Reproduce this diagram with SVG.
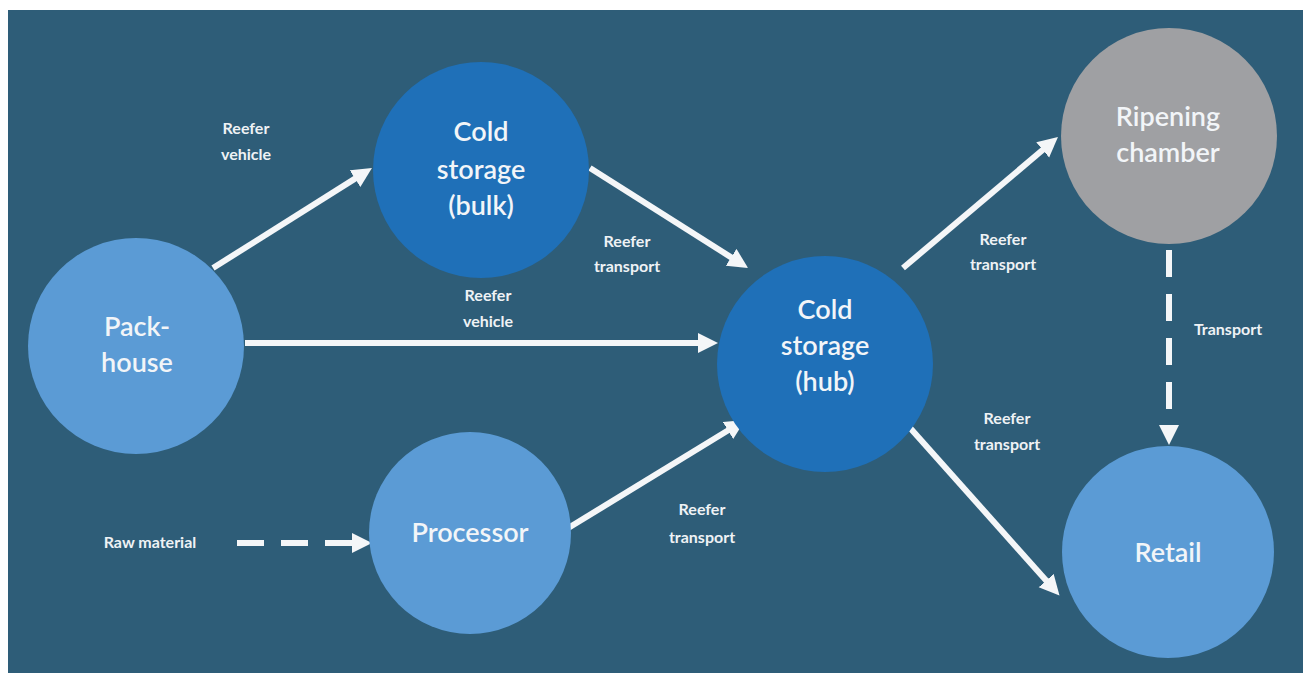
<svg xmlns="http://www.w3.org/2000/svg" width="1303" height="673" viewBox="0 0 1303 673">
<style>
.bg{fill:#2E5D78}
.light{fill:#5B9BD5}
.dark{fill:#1F70B8}
.gray{fill:#9FA0A3}
.nt{font-family:Lato,"Open Sans","Liberation Sans",sans-serif;font-size:27px;font-weight:600;fill:#F2F5F8;text-anchor:middle}
.et{font-family:Lato,"Open Sans","Liberation Sans",sans-serif;font-size:16px;font-weight:bold;fill:#EEF2F5;text-anchor:middle}
.conn{stroke:#F4F6F8;stroke-width:6;fill:none;marker-end:url(#ah)}
.dash{stroke-dasharray:27 17}
</style>
<defs>
<marker id="ah" markerUnits="userSpaceOnUse" markerWidth="22" markerHeight="22" refX="8" refY="10" orient="auto">
<path d="M0,0 L20,10 L0,20 z" fill="#F4F6F8"/>
</marker>
</defs>
<rect x="0" y="0" width="1303" height="673" fill="#FFFFFF"/>
<rect class="bg" x="8" y="10" width="1295" height="663"/>
<g id="connectors">
<line class="conn" x1="213" y1="268" x2="361.8" y2="174.4"/>
<line class="conn" x1="245" y1="343" x2="706" y2="343"/>
<line class="conn" x1="590" y1="168" x2="737.9" y2="261.6"/>
<line class="conn" x1="565" y1="530" x2="734.8" y2="426.3"/>
<line class="conn" x1="903" y1="268" x2="1048.8" y2="144.8"/>
<line class="conn" x1="903" y1="420" x2="1051.5" y2="586.5"/>
<line class="conn dash" x1="237" y1="543" x2="360" y2="543"/>
<line class="conn dash" x1="1169" y1="250" x2="1169" y2="433"/>
<text class="et" x="246" y="134">Reefer</text>
<text class="et" x="246" y="160">vehicle</text>
<text class="et" x="488" y="301">Reefer</text>
<text class="et" x="488" y="327">vehicle</text>
<text class="et" x="627" y="247">Reefer</text>
<text class="et" x="627" y="272">transport</text>
<text class="et" x="1003" y="245">Reefer</text>
<text class="et" x="1003" y="270">transport</text>
<text class="et" x="1007" y="424">Reefer</text>
<text class="et" x="1007" y="450">transport</text>
<text class="et" x="702" y="515">Reefer</text>
<text class="et" x="702" y="543">transport</text>
<text class="et" x="150" y="548">Raw material</text>
<text class="et" x="1228" y="335">Transport</text>
</g>
<g id="packhouse">
<circle class="light" cx="136" cy="346" r="108"/>
<text class="nt" x="137" y="336">Pack-</text>
<text class="nt" x="137" y="372">house</text>
</g>
<g id="cold-bulk">
<circle class="dark" cx="481" cy="170" r="108"/>
<text class="nt" x="481" y="141">Cold</text>
<text class="nt" x="481" y="179">storage</text>
<text class="nt" x="481" y="215">(bulk)</text>
</g>
<g id="cold-hub">
<circle class="dark" cx="825" cy="364" r="108"/>
<text class="nt" x="825" y="319">Cold</text>
<text class="nt" x="825" y="355">storage</text>
<text class="nt" x="825" y="391">(hub)</text>
</g>
<g id="processor">
<circle class="light" cx="470" cy="533" r="101"/>
<text class="nt" x="470" y="542">Processor</text>
</g>
<g id="ripening">
<circle class="gray" cx="1169" cy="136" r="108"/>
<text class="nt" x="1168" y="126">Ripening</text>
<text class="nt" x="1168" y="162">chamber</text>
</g>
<g id="retail">
<circle class="light" cx="1168" cy="552" r="106"/>
<text class="nt" x="1168" y="562">Retail</text>
</g>
</svg>
